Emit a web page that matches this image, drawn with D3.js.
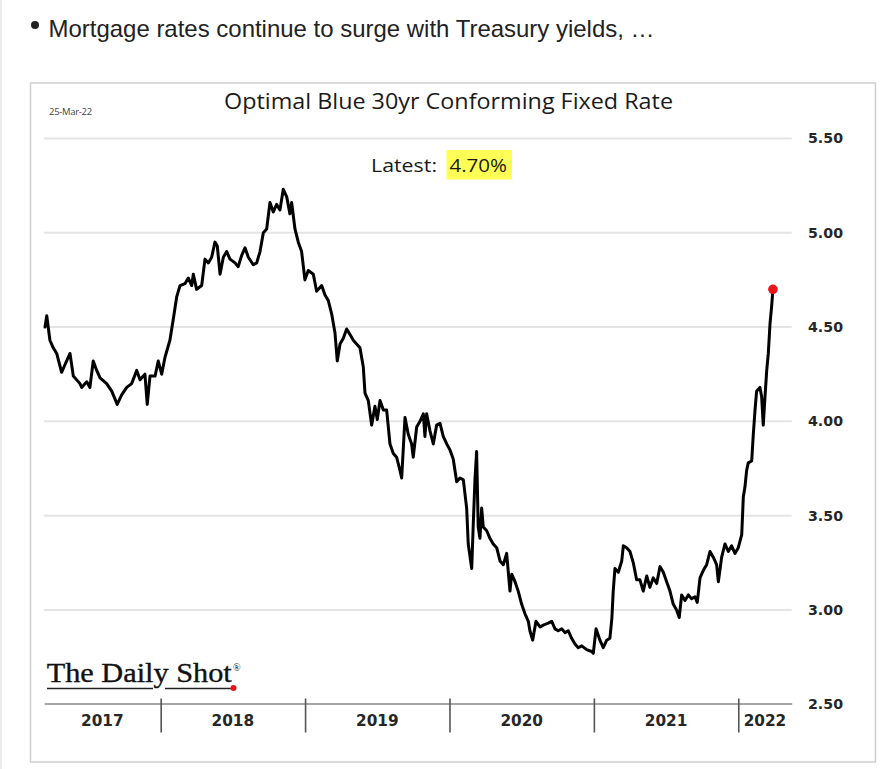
<!DOCTYPE html>
<html>
<head>
<meta charset="utf-8">
<script src="https://cdn.jsdelivr.net/npm/d3@7"></script>
<style>
  html, body { margin: 0; padding: 0; background: #ffffff; }
  svg { display: block; }
</style>
</head>
<body>
<svg id="chart" width="885" height="769"></svg>
<script>
// ---------- DATA ----------
const headline = "Mortgage rates continue to surge with Treasury yields, …";
const chartTitle = "Optimal Blue 30yr Conforming Fixed Rate";
const dateStamp = "25-Mar-22";
const latestLabel = "Latest:";
const latestValue = "4.70%";
const yearLabels = [2017, 2018, 2019, 2020, 2021, 2022];
const yearTicks = [2018, 2019, 2020, 2021, 2022];
const yTicks = [2.5, 3.0, 3.5, 4.0, 4.5, 5.0, 5.5];
const xDomain = [2017.192, 2022.370];   // decimal years shown on the axis

// dates as decimal years
const dates = [
  2017.199,2017.211,2017.233,2017.256,2017.280,2017.314,2017.337,2017.372,2017.395,2017.441,
  2017.453,2017.488,2017.510,2017.533,2017.557,2017.580,2017.626,2017.661,2017.699,2017.730,
  2017.765,2017.799,2017.834,2017.857,2017.891,2017.907,2017.926,2017.961,2017.983,2018.007,
  2018.030,2018.064,2018.087,2018.111,2018.134,2018.168,2018.191,2018.215,2018.226,2018.249,
  2018.284,2018.307,2018.330,2018.353,2018.376,2018.392,2018.411,2018.434,2018.457,2018.480,
  2018.515,2018.537,2018.561,2018.584,2018.607,2018.641,2018.665,2018.688,2018.711,2018.734,
  2018.757,2018.780,2018.803,2018.826,2018.849,2018.873,2018.895,2018.907,2018.930,2018.953,
  2018.976,2018.999,2019.022,2019.057,2019.080,2019.115,2019.138,2019.161,2019.184,2019.207,
  2019.223,2019.242,2019.265,2019.288,2019.311,2019.334,2019.357,2019.380,2019.403,2019.415,
  2019.438,2019.461,2019.484,2019.500,2019.519,2019.542,2019.565,2019.588,2019.611,2019.634,
  2019.657,2019.669,2019.692,2019.715,2019.738,2019.749,2019.773,2019.796,2019.819,2019.830,
  2019.842,2019.865,2019.888,2019.911,2019.934,2019.957,2019.981,2020.003,2020.026,2020.050,
  2020.073,2020.096,2020.119,2020.130,2020.154,2020.165,2020.177,2020.188,2020.199,2020.211,
  2020.223,2020.234,2020.258,2020.280,2020.303,2020.327,2020.350,2020.373,2020.396,2020.419,
  2020.431,2020.454,2020.476,2020.500,2020.523,2020.546,2020.557,2020.576,2020.599,2020.627,
  2020.650,2020.684,2020.708,2020.731,2020.753,2020.777,2020.800,2020.823,2020.846,2020.869,
  2020.892,2020.916,2020.950,2020.985,2020.996,2021.015,2021.042,2021.065,2021.089,2021.111,
  2021.125,2021.134,2021.146,2021.169,2021.193,2021.204,2021.227,2021.250,2021.273,2021.296,
  2021.319,2021.342,2021.366,2021.388,2021.411,2021.435,2021.458,2021.481,2021.504,2021.527,
  2021.550,2021.573,2021.591,2021.608,2021.631,2021.654,2021.677,2021.700,2021.716,2021.735,
  2021.758,2021.781,2021.804,2021.827,2021.850,2021.862,2021.885,2021.908,2021.931,2021.954,
  2021.977,2022.000,2022.024,2022.035,2022.046,2022.058,2022.069,2022.093,2022.104,2022.116,
  2022.127,2022.150,2022.162,2022.173,2022.185,2022.197,2022.208,2022.220,2022.231,2022.240
];
// 30yr conforming fixed rate, %
const rates = [
  4.50,4.56,4.43,4.39,4.36,4.26,4.30,4.36,4.24,4.20,
  4.18,4.21,4.18,4.32,4.27,4.23,4.20,4.16,4.09,4.14,
  4.18,4.20,4.27,4.22,4.25,4.09,4.24,4.24,4.32,4.25,
  4.34,4.43,4.54,4.66,4.72,4.73,4.76,4.72,4.78,4.70,
  4.72,4.86,4.84,4.87,4.95,4.93,4.78,4.87,4.90,4.86,
  4.84,4.82,4.88,4.92,4.87,4.83,4.84,4.90,5.00,5.02,
  5.16,5.11,5.15,5.12,5.23,5.19,5.10,5.16,5.02,4.95,
  4.90,4.75,4.80,4.78,4.69,4.72,4.67,4.64,4.57,4.47,
  4.32,4.41,4.44,4.49,4.46,4.43,4.41,4.39,4.29,4.15,
  4.11,3.98,4.08,4.01,4.11,4.06,4.06,3.88,3.83,3.81,
  3.74,3.70,4.02,3.93,3.88,3.81,3.97,4.00,4.04,3.92,
  4.04,3.95,3.88,3.98,3.99,3.92,3.88,3.85,3.80,3.68,
  3.70,3.69,3.54,3.35,3.22,3.46,3.70,3.84,3.44,3.38,
  3.54,3.44,3.42,3.38,3.35,3.33,3.26,3.24,3.30,3.10,
  3.19,3.15,3.10,3.03,2.98,2.94,2.89,2.84,2.94,2.91,
  2.92,2.93,2.94,2.90,2.89,2.90,2.88,2.89,2.85,2.82,
  2.80,2.81,2.79,2.78,2.77,2.90,2.84,2.80,2.84,2.85,
  2.96,3.10,3.22,3.20,3.26,3.34,3.33,3.31,3.25,3.16,
  3.16,3.10,3.18,3.12,3.17,3.14,3.23,3.20,3.15,3.10,
  3.03,3.00,2.96,3.08,3.05,3.08,3.06,3.07,3.04,3.17,
  3.21,3.24,3.31,3.28,3.24,3.15,3.28,3.35,3.31,3.34,
  3.30,3.33,3.40,3.60,3.65,3.74,3.78,3.79,3.93,4.06,
  4.16,4.18,4.13,3.98,4.13,4.27,4.36,4.52,4.61,4.70
];

// ---------- DRAW ----------
const svg = d3.select("#chart");
const series = dates.map((t, i) => ({ t: t, v: rates[i] }));

const x = d3.scaleLinear().domain(xDomain).range([44, 791.7]);
const y = d3.scaleLinear().domain([2.5, 5.5]).range([704.3, 138.4]);

// faint page edge
svg.append("line").attr("x1", 1).attr("x2", 1).attr("y1", 0).attr("y2", 769)
  .attr("stroke", "#e4e4e4").attr("stroke-width", 1.5);

// headline with bullet
svg.append("circle").attr("cx", 35).attr("cy", 25).attr("r", 4).attr("fill", "#222");
svg.append("text").attr("x", 48.5).attr("y", 37)
  .attr("font-family", "'Liberation Sans', Arial, sans-serif").attr("font-size", 24)
  .attr("textLength", 606).attr("lengthAdjust", "spacingAndGlyphs")
  .attr("fill", "#222").text(headline);

// chart frame
svg.append("rect").attr("x", 30.5).attr("y", 83).attr("width", 845).attr("height", 679)
  .attr("fill", "#ffffff").attr("stroke", "#cfcfcf").attr("stroke-width", 1.5);

// date stamp
svg.append("text").attr("x", 49).attr("y", 114.5)
  .attr("font-family", "'Open Sans', sans-serif").attr("font-size", 9.5)
  .attr("letter-spacing", -0.3).attr("fill", "#444").text(dateStamp);

// title
svg.append("text").attr("x", 224).attr("y", 109.3)
  .attr("font-family", "'Open Sans', sans-serif").attr("font-size", 21.5)
  .attr("textLength", 449).attr("lengthAdjust", "spacingAndGlyphs")
  .attr("fill", "#1a1a1a").text(chartTitle);

// grid lines
svg.append("g").selectAll("line").data(yTicks.filter(d => d > 2.5)).join("line")
  .attr("x1", 44).attr("x2", 791.7)
  .attr("y1", d => y(d)).attr("y2", d => y(d))
  .attr("stroke", "#e4e4e4").attr("stroke-width", 2);

// latest label
svg.append("rect").attr("x", 446.5).attr("y", 150).attr("width", 65.5).attr("height", 29.5)
  .attr("fill", "#ffff55");
svg.append("text").attr("x", 371).attr("y", 171.7)
  .attr("font-family", "'Open Sans', sans-serif").attr("font-size", 19)
  .attr("textLength", 66).attr("lengthAdjust", "spacingAndGlyphs")
  .attr("fill", "#1a1a1a").text(latestLabel);
svg.append("text").attr("x", 449.5).attr("y", 171.7)
  .attr("font-family", "'Open Sans', sans-serif").attr("font-size", 19)
  .attr("textLength", 57.5).attr("lengthAdjust", "spacingAndGlyphs")
  .attr("fill", "#1a1a1a").text(latestValue);

// right axis labels
const yAxis = d3.axisRight(y).tickValues(yTicks).tickFormat(d3.format(".2f"))
  .tickSize(0).tickPadding(0);
const yg = svg.append("g").attr("transform", "translate(808,0)").call(yAxis);
yg.select(".domain").remove();
yg.selectAll("text")
  .attr("font-family", "'DejaVu Sans', Verdana, sans-serif").attr("font-weight", "bold")
  .attr("font-size", 14.2).attr("fill", "#262626");

// bottom axis (year separators)
const xAxis = d3.axisBottom(x).tickValues(yearTicks).tickFormat("").tickSizeOuter(0).tickSizeInner(29);
const xg = svg.append("g").attr("transform", "translate(0,703.5)").call(xAxis);
xg.select(".domain").attr("stroke", "#8a8a8a").attr("stroke-width", 1.6);
xg.selectAll(".tick line").attr("y1", -5).attr("stroke", "#555").attr("stroke-width", 1.6);

// year labels centred in each year span
svg.append("g").selectAll("text").data(yearLabels).join("text")
  .attr("x", d => (x(Math.max(d, xDomain[0])) + x(Math.min(d + 1, xDomain[1]))) / 2)
  .attr("y", 726)
  .attr("text-anchor", "middle")
  .attr("font-family", "'DejaVu Sans', Verdana, sans-serif").attr("font-weight", "bold")
  .attr("font-size", 15.3).attr("fill", "#262626")
  .text(d => d);

// the line
const line = d3.line().x(d => x(d.t)).y(d => y(d.v));
svg.append("path").datum(series).attr("d", line)
  .attr("fill", "none").attr("stroke", "#000").attr("stroke-width", 3)
  .attr("stroke-linejoin", "round").attr("stroke-linecap", "round");

// latest point
const last = series[series.length - 1];
svg.append("circle").attr("cx", x(last.t)).attr("cy", y(last.v)).attr("r", 4.8)
  .attr("fill", "#e8141b");

// logo
const logo = svg.append("g");
logo.append("text").attr("x", 46.7).attr("y", 682)
  .attr("font-family", "'Liberation Serif', 'Times New Roman', serif").attr("font-size", 27)
  .attr("textLength", 185).attr("lengthAdjust", "spacingAndGlyphs")
  .attr("fill", "#111").attr("stroke", "#111").attr("stroke-width", 0.35)
  .text("The Daily Shot");
logo.append("text").attr("x", 233).attr("y", 671)
  .attr("font-family", "'Liberation Serif', serif").attr("font-size", 10)
  .attr("fill", "#111").text("®");
logo.append("line").attr("x1", 47).attr("x2", 153).attr("y1", 688.5).attr("y2", 688.5)
  .attr("stroke", "#222").attr("stroke-width", 1.4);
logo.append("line").attr("x1", 165).attr("x2", 231).attr("y1", 688.5).attr("y2", 688.5)
  .attr("stroke", "#222").attr("stroke-width", 1.4);
logo.append("circle").attr("cx", 233.5).attr("cy", 688).attr("r", 3).attr("fill", "#e8141b");
</script>
</body>
</html>
